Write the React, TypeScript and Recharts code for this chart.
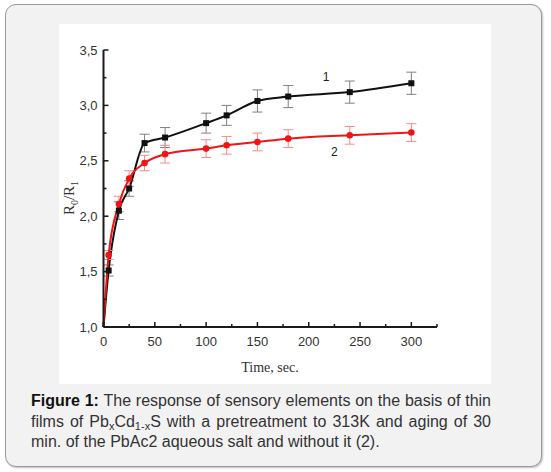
import { LineChart, Line, XAxis, YAxis, ErrorBar, ReferenceDot } from 'recharts'

// time, sec.
const times = [0, 5, 15, 25, 40, 60, 100, 120, 150, 180, 240, 300]
// curve 1 (black, squares)
const series1 = [1.0, 1.51, 2.05, 2.25, 2.66, 2.71, 2.84, 2.91, 3.04, 3.08, 3.12, 3.2]
const err1 = [null, 0.05, 0.08, 0.07, 0.08, 0.09, 0.09, 0.09, 0.1, 0.1, 0.1, 0.1]
// curve 2 (red, circles)
const series2 = [1.0, 1.65, 2.11, 2.34, 2.48, 2.56, 2.61, 2.64, 2.67, 2.7, 2.73, 2.755]
const err2 = [null, 0.04, 0.07, 0.07, 0.07, 0.08, 0.08, 0.08, 0.08, 0.08, 0.08, 0.08]

const xTicks = [0, 25, 50, 75, 100, 125, 150, 175, 200, 225, 250, 275, 300, 325]
const yTicks = [1, 1.25, 1.5, 1.75, 2, 2.25, 2.5, 2.75, 3, 3.25, 3.5]

const data = times.map((t, i) => ({ t, s1: series1[i], e1: err1[i], s2: series2[i], e2: err2[i] }))

const AXIS = '#1a1a1a'
const TICK_TEXT = '#333'
const SANS = '"Liberation Sans", Arial, sans-serif'
const SERIF = '"Liberation Serif", "Times New Roman", serif'

function XTick({ x, y, payload }: any) {
  const v = payload.value
  const major = v % 50 === 0
  return (
    <g>
      <line x1={x} x2={x} y1={y} y2={y - (major ? 5 : 3)} stroke={AXIS} strokeWidth={1.5} />
      {major && v <= 300 && (
        <text x={x} y={y + 19} textAnchor="middle" fontSize={13} fill={TICK_TEXT} fontFamily={SANS}>
          {v}
        </text>
      )}
    </g>
  )
}

function YTick({ x, y, payload }: any) {
  const v = payload.value
  const major = Math.abs(v * 2 - Math.round(v * 2)) < 1e-6
  return (
    <g>
      <line x1={x} x2={x + (major ? 5 : 3)} y1={y} y2={y} stroke={AXIS} strokeWidth={1.5} />
      {major && (
        <text x={x - 6} y={y + 4.5} textAnchor="end" fontSize={13} fill={TICK_TEXT} fontFamily={SANS}>
          {v.toFixed(1).replace('.', ',')}
        </text>
      )}
    </g>
  )
}

function SquareDot({ cx, cy, payload }: any) {
  if (payload.t === 0) return <g />
  return <rect x={cx - 3} y={cy - 3} width={6} height={6} fill="#111" />
}

function RoundDot({ cx, cy, payload }: any) {
  if (payload.t === 0) return <g />
  return <circle cx={cx} cy={cy} r={3.3} fill="#f01515" />
}

const subStyle = { fontSize: 11, verticalAlign: '-3px', lineHeight: 0 }

export default function App() {
  return (
    <div style={{ position: 'absolute', left: 0, top: 0, width: 551, height: 472, fontFamily: SANS }}>
      <div
        style={{
          position: 'absolute',
          left: 5,
          top: 4,
          width: 537,
          height: 463,
          boxSizing: 'border-box',
          background: '#f2f2f2',
          border: '1.5px solid #9a9a9a',
          borderRadius: 11,
          boxShadow: '1px 1px 2px rgba(0,0,0,0.25)',
        }}
      />
      <div style={{ position: 'absolute', left: 59, top: 24, width: 432, height: 360, background: '#fff' }}>
        <LineChart width={432} height={360} data={data} margin={{ top: 26, right: 54, bottom: 27, left: 0 }}>
          <XAxis
            dataKey="t"
            type="number"
            domain={[0, 325]}
            ticks={xTicks}
            interval={0}
            height={30}
            tickSize={0}
            tickMargin={0}
            tickLine={false}
            axisLine={{ stroke: AXIS, strokeWidth: 2 }}
            tick={<XTick />}
            label={{
              content: () => (
                <text x={211} y={348} textAnchor="middle" fontSize={14} fill="#333" fontFamily={SERIF}>
                  Time, sec.
                </text>
              ),
            }}
          />
          <YAxis
            type="number"
            domain={[1, 3.5]}
            ticks={yTicks}
            interval={0}
            width={44.5}
            tickSize={0}
            tickMargin={0}
            tickLine={false}
            axisLine={{ stroke: AXIS, strokeWidth: 2 }}
            tick={<YTick />}
            label={{
              content: () => (
                <text
                  transform="translate(15,174) rotate(-90)"
                  textAnchor="middle"
                  fontSize={15}
                  fill="#333"
                  fontFamily={SERIF}
                >
                  R<tspan fontSize={10} dy={4}>0</tspan>
                  <tspan dy={-4}>/R</tspan>
                  <tspan fontSize={10} dy={4}>1</tspan>
                </text>
              ),
            }}
          />
          <Line
            dataKey="s1"
            type="monotone"
            stroke="#111"
            strokeWidth={2}
            dot={<SquareDot />}
            activeDot={false}
            isAnimationActive={false}
          >
            <ErrorBar dataKey="e1" width={5} stroke="#808080" strokeWidth={1} direction="y" />
          </Line>
          <Line
            dataKey="s2"
            type="monotone"
            stroke="#f01515"
            strokeWidth={2}
            dot={<RoundDot />}
            activeDot={false}
            isAnimationActive={false}
          >
            <ErrorBar dataKey="e2" width={5} stroke="#f58a8a" strokeWidth={1} direction="y" />
          </Line>
          <ReferenceDot
            x={217}
            y={3.26}
            r={0}
            label={{ value: '1', position: 'center', fontSize: 12, fill: '#222', fontFamily: SANS }}
          />
          <ReferenceDot
            x={225}
            y={2.58}
            r={0}
            label={{ value: '2', position: 'center', fontSize: 12, fill: '#222', fontFamily: SANS }}
          />
        </LineChart>
      </div>
      <div
        style={{
          position: 'absolute',
          left: 31,
          top: 391,
          width: 460,
          fontSize: 16,
          lineHeight: '20.5px',
          color: '#333',
          textAlign: 'justify',
        }}
      >
        <b style={{ color: '#111' }}>Figure 1:</b> The response of sensory elements on the basis of thin films of Pb
        <span style={subStyle}>x</span>Cd<span style={subStyle}>1-x</span>S with a pretreatment to 313K and aging of
        30 min. of the PbAc2 aqueous salt and without it (2).
      </div>
    </div>
  )
}
